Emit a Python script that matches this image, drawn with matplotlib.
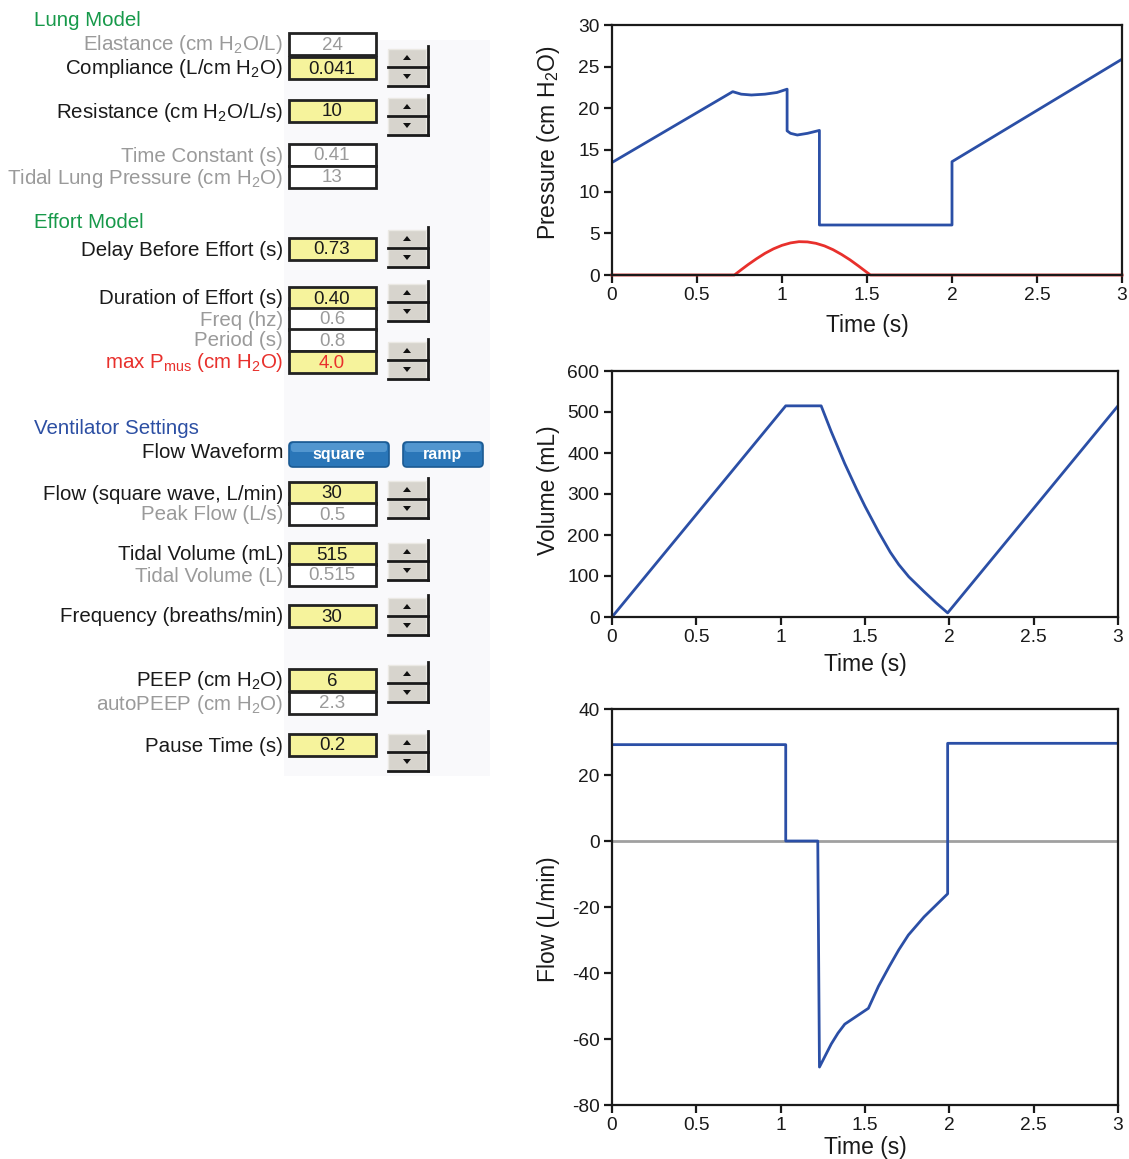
import matplotlib.pyplot as plt
from matplotlib.patches import Rectangle, FancyBboxPatch, Polygon

plt.rcParams['font.family'] = ['Liberation Sans', 'DejaVu Sans']
plt.rcParams['mathtext.fontset'] = 'custom'
plt.rcParams['mathtext.rm'] = 'Liberation Sans'
plt.rcParams['mathtext.it'] = 'Liberation Sans:italic'
plt.rcParams['mathtext.bf'] = 'Liberation Sans:bold'
plt.rcParams['axes.unicode_minus'] = False

H2O = r'H$_\mathregular{2}$O'

# ---- waveforms ----
p_t = [0, 0.71, 0.76, 0.82, 0.9, 0.97, 1.03, 1.03, 1.05, 1.09, 1.15, 1.22, 1.22, 2.0, 2.0, 3.0]
p_v = [13.5, 22.0, 21.7, 21.6, 21.7, 21.9, 22.3, 17.3, 17.0, 16.8, 17.0, 17.35, 6.0, 6.0, 13.6, 25.9]

mus_t = [0, 0.72, 0.76, 0.8, 0.85, 0.9, 0.95, 1.0, 1.05, 1.1, 1.15, 1.2, 1.25, 1.3, 1.35, 1.4, 1.45, 1.52, 3.0]
mus_v = [0, 0, 0.63, 1.24, 1.95, 2.6, 3.14, 3.56, 3.85, 4.0, 3.97, 3.8, 3.49, 3.04, 2.47, 1.82, 1.08, 0, 0]

vol_t = [0, 1.03, 1.24, 1.30, 1.38, 1.45, 1.50, 1.58, 1.65, 1.70, 1.76, 1.85, 1.92, 1.99, 3.0]
vol_v = [0, 515, 515, 452, 374, 312, 270, 208, 158, 128, 98, 62, 35, 10, 515]

flow_t = [0, 1.03, 1.03, 1.22, 1.23, 1.27, 1.30, 1.34, 1.38, 1.52, 1.58, 1.644, 1.70, 1.757, 1.85, 1.99, 1.99, 3.0]
flow_v = [29.2, 29.2, 0, 0, -68.5, -64.5, -61.5, -58.2, -55.5, -50.7, -44, -38, -33, -28.5, -23, -16, 29.6, 29.6]

x_ticks = [0, 0.5, 1, 1.5, 2, 2.5, 3]
x_tick_labels = ['0', '0.5', '1', '1.5', '2', '2.5', '3']

# ---- control panel rows ----
row_labels = ['Elastance (cm %s/L)' % H2O, 'Compliance (L/cm %s)' % H2O,
              'Resistance (cm %s/L/s)' % H2O, 'Time Constant (s)',
              'Tidal Lung Pressure (cm %s)' % H2O,
              'Delay Before Effort (s)', 'Duration of Effort (s)', 'Freq (hz)',
              'Period (s)', r'max P$_\mathregular{mus}$ (cm %s)' % H2O,
              'Flow (square wave, L/min)', 'Peak Flow (L/s)',
              'Tidal Volume (mL)', 'Tidal Volume (L)', 'Frequency (breaths/min)',
              'PEEP (cm %s)' % H2O, 'autoPEEP (cm %s)' % H2O, 'Pause Time (s)']
row_values = ['24', '0.041', '10', '0.41', '13', '0.73', '0.40', '0.6', '0.8', '4.0',
              '30', '0.5', '515', '0.515', '30', '6', '2.3', '0.2']
row_kind = ['out', 'in', 'in', 'out', 'out', 'in', 'in', 'out', 'out', 'red',
            'in', 'out', 'in', 'out', 'in', 'in', 'out', 'in']
row_y = [44, 68, 111, 155, 177, 249, 298, 319, 340, 362,
         493, 514, 554, 575, 616, 680, 703, 745]
spinner_y = [67, 116, 248, 302, 360, 499, 561, 616, 683, 752]
groups = [('Lung Model', 21, '#17994a'), ('Effort Model', 223, '#17994a'),
          ('Ventilator Settings', 428, '#2c4fa3')]

W, H = 1129, 1159
fig = plt.figure(figsize=(W / 100, H / 100), dpi=100)
ax0 = fig.add_axes([0, 0, 1, 1])
ax0.set_xlim(0, W)
ax0.set_ylim(H, 0)
ax0.axis('off')

ax0.add_patch(Rectangle((284, 40), 206, 736, facecolor='#f9f9fb', edgecolor='none'))

for name, y, c in groups:
    ax0.text(34, y, name, fontsize=14.8, color=c, va='center', ha='left')

for lab, val, kind, y in zip(row_labels, row_values, row_kind, row_y):
    if kind == 'out':
        tc, vc, fc = '#9a9a9a', '#9a9a9a', 'white'
    elif kind == 'red':
        tc, vc, fc = '#e8302c', '#e8302c', '#f6f39c'
    else:
        tc, vc, fc = '#1a1a1a', '#1a1a1a', '#f6f39c'
    ax0.text(283, y + 1, lab, fontsize=14.8, color=tc, ha='right', va='center')
    ax0.add_patch(Rectangle((289, y - 11), 87, 22, facecolor=fc, edgecolor='#222222', lw=2))
    ax0.text(332, y + 1, val, fontsize=13.5, color=vc, ha='center', va='center')

# flow waveform row
ax0.text(283, 453, 'Flow Waveform', fontsize=14.8, color='#1a1a1a', ha='right', va='center')
for bx, bw, btxt in [(289, 100, 'square'), (403, 80, 'ramp')]:
    ax0.add_patch(FancyBboxPatch((bx, 442), bw, 25, boxstyle='round,pad=0,rounding_size=4',
                                 facecolor='#2a76b8', edgecolor='#1b5a92', lw=1.2))
    ax0.add_patch(FancyBboxPatch((bx + 2, 443), bw - 4, 9, boxstyle='round,pad=0,rounding_size=3',
                                 facecolor='#5d9fd6', edgecolor='none', alpha=0.8))
    ax0.text(bx + bw / 2, 455, btxt, fontsize=11.5, color='white', fontweight='bold',
             ha='center', va='center')

# spinner buttons
for c in spinner_y:
    x0 = 388
    ax0.add_patch(Rectangle((x0, c - 18), 38, 17, facecolor='#d7d4cd', edgecolor='#ebe9e4', lw=1))
    ax0.add_patch(Rectangle((x0, c + 1), 38, 17, facecolor='#d7d4cd', edgecolor='#ebe9e4', lw=1))
    ax0.plot([x0, x0 + 40], [c, c], color='#1a1a1a', lw=2)
    ax0.plot([x0, x0 + 40], [c + 19, c + 19], color='#1a1a1a', lw=2)
    ax0.plot([x0 + 40, x0 + 40], [c - 21, c + 19], color='#1a1a1a', lw=2)
    ax0.add_patch(Polygon([[x0 + 15, c - 7], [x0 + 23, c - 7], [x0 + 19, c - 12]],
                          facecolor='#111111', edgecolor='none'))
    ax0.add_patch(Polygon([[x0 + 15, c + 7], [x0 + 23, c + 7], [x0 + 19, c + 12]],
                          facecolor='#111111', edgecolor='none'))

blue = '#2b4fa6'
red = '#e8302c'


def style(ax, lab_x, lab_y, xpad):
    for s in ax.spines.values():
        s.set_linewidth(1.6)
        s.set_color('#1a1a1a')
    ax.tick_params(direction='out', length=6, width=1.6, labelsize=13.8,
                   colors='#1a1a1a', pad=3)
    ax.set_xlim(0, 3)
    ax.set_xticks(x_ticks)
    ax.set_xticklabels(x_tick_labels)
    ax.set_xlabel('Time (s)', fontsize=16.5, color='#1a1a1a', labelpad=xpad)
    ax.yaxis.set_label_coords(lab_x, lab_y)


axp = fig.add_axes([612 / W, 1 - 275 / H, 510 / W, 250 / H])
axp.plot(p_t, p_v, color=blue, lw=2)
axp.plot(mus_t, mus_v, color=red, lw=2, clip_on=False)
axp.set_ylim(0, 30)
axp.set_yticks([0, 5, 10, 15, 20, 25, 30])
axp.set_ylabel('Pressure (cm %s)' % H2O, fontsize=16.5, color='#1a1a1a', va='center')
style(axp, (549 - 612) / 510, 0.53, 7)

axv = fig.add_axes([612 / W, 1 - 617 / H, 506 / W, 246 / H])
axv.plot(vol_t, vol_v, color=blue, lw=2)
axv.set_ylim(0, 600)
axv.set_yticks([0, 100, 200, 300, 400, 500, 600])
axv.set_ylabel('Volume (mL)', fontsize=16.5, color='#1a1a1a', va='center')
style(axv, (549 - 612) / 506, 0.515, 5)

axf = fig.add_axes([612 / W, 1 - 1105 / H, 506 / W, 396 / H])
axf.axhline(0, color='#a0a0a0', lw=2, zorder=1)
axf.plot(flow_t, flow_v, color=blue, lw=2, zorder=2)
axf.set_ylim(-80, 40)
axf.set_yticks([-80, -60, -40, -20, 0, 20, 40])
axf.set_ylabel('Flow (L/min)', fontsize=16.5, color='#1a1a1a', va='center')
style(axf, (549 - 612) / 506, 0.47, 1)

fig.savefig('out.png', dpi=100)
